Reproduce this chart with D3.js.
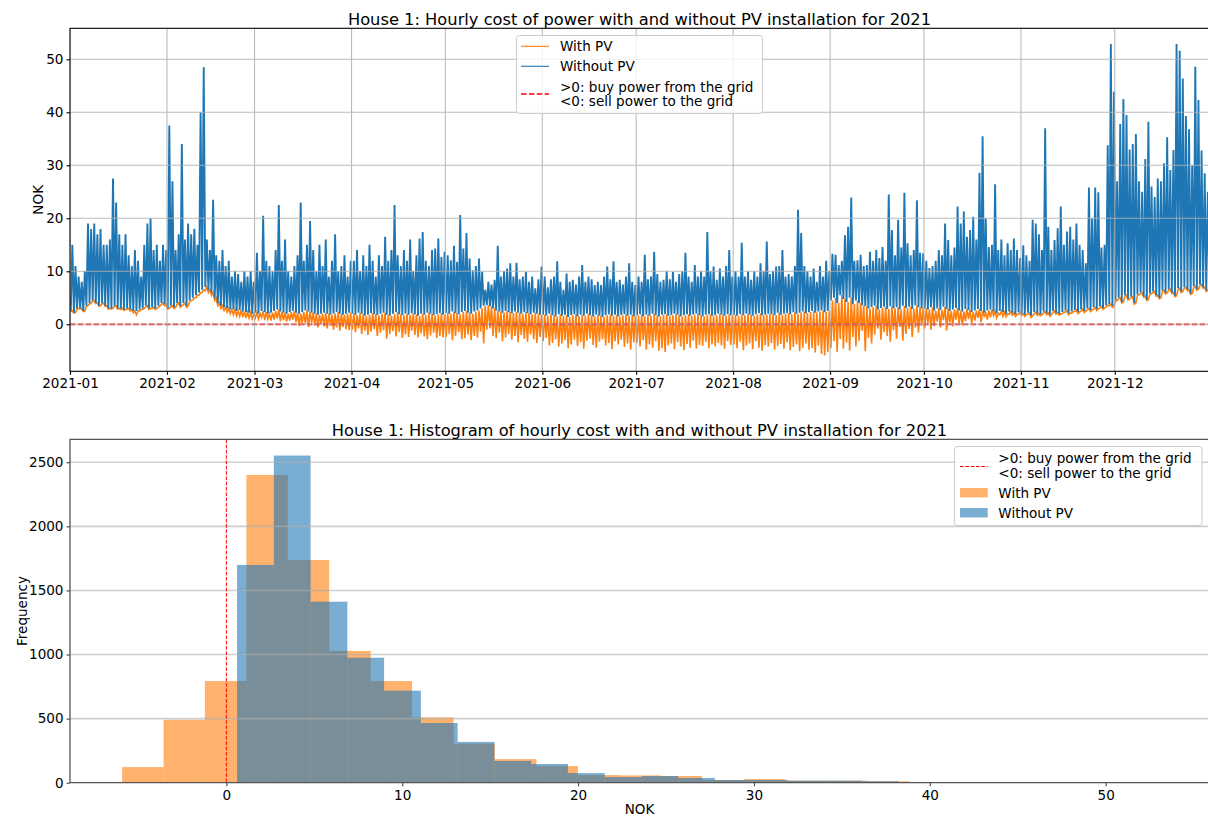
<!DOCTYPE html>
<html>
<head>
<meta charset="utf-8">
<script src="https://cdn.jsdelivr.net/npm/d3@7"></script>
<style>
  body { margin: 0; background: #fff; }
  svg { display: block; font-family: "DejaVu Sans", sans-serif; }
</style>
</head>
<body>
<div id="chart"></div>
<script>
// ---- time series: one entry per day of 2021 ----
// daily peak of the hourly cost without PV (NOK)
const withoutPvMax = [
  15,11,9,8,10,19,18,19,17,18,15,15,16,27.5,23,17,15,17,13,11,14,12,9,15,19,20,14,15,12,15,14,          // jan
  37.5,27,14,17,34,16,19,17,18,15,40,48.5,16,14,23.5,13,12,14,11,12,9,10,9.5,8,10,9,10,8,               // feb
  13.5,10,20.5,12,11,10,14,22.5,12,16,10,9,11,13,23,12,15,19.5,14,10,15,11,16,9,12,17,10,11,13,9,12,    // mar
  12,14,10,13,11,15,12,9,13,11,16.5,12,14,22.5,13,11,14,12,16,10,13,16.2,17.4,12,11,14,14.3,16.2,12.7,13.7, // apr
  13,12.1,14.8,11.8,20.6,14.3,17.2,12.4,10.2,11,12.4,9.9,6.5,8,7.5,8.4,14.8,9,10,10.5,11.5,9,11.6,8.5,9,9.9,8,9,6.8,8.5,10.9, // may
  9,7,8.5,9,11.9,8,6.5,9.6,8,8.4,7.5,9,11.2,8,9,8.5,7.4,8,7.4,9,10.9,8.5,11.9,8,8.4,7.5,9,11.5,8,7.4,   // jun
  9,8,13.1,8.5,9,13.7,9.5,8,8.4,10,8.5,9.9,8,9.5,10,13.5,9,8,11.2,9,10,9,17.4,10,10.9,8.4,10.5,9,11,14,9, // jul
  10,9,15.4,9,10,8.4,10,9,11.5,10,15.6,9.5,10,10.9,11,14,9,9.5,9,11,21.6,17.2,11,10,9,10.5,8,11,9,12,10, // aug
  13.3,13.1,11.2,12,16.8,18.4,23.9,12,12.1,13.1,11,11.2,13.7,12,14,12.5,14.6,12,24.5,17.8,13,19.7,14.5,24.8,15.3,13,14,23.4,13.5,13.4, // sep
  12,10.6,11,12,14,13,19,15.9,13,14.5,22.2,19,21.3,16.5,17.8,20.3,16,28.6,35.5,20,14.6,15,26.4,14,16,13,15.3,14,16.2,14,12.5, // oct
  14.9,13,12,19.7,19,17,14,37,18.4,14,15.9,18.1,22.2,15,17.5,18.4,16,19,15,14,11.5,25.8,20,25.8,24.9,14.5,15,33.8,52.9,43.9, // nov
  27,37.8,42.5,39.5,33,34,35.9,27,25,31.2,38.2,26,24,27.5,27,30.4,35.3,29.1,32.9,52.9,51.6,46.4,39.3,36.8,30,48.6,42.3,32.8,28.5,25,24 // dec
];
// daily low of the hourly cost without PV (NOK)
const withoutPvMin = [
  2.5,2.2,3,3,2.5,3.5,4,4.5,4,3.5,4,3.5,3,3,3.5,3,3,2.8,3,2.8,2.5,2.5,2.8,3,3.5,3,3.2,3,3.5,4,3.8,
  3,3.5,3.2,4,3.5,4,3.5,4.5,5,5.5,6,6.5,7,6.5,6,5,4,3.5,3.2,3,2.8,2.8,2.5,2.7,2.4,2.3,2.2,2,
  2.2,2,2.5,2.3,2,2.2,2.5,2.8,2.4,2.2,2,2.3,2.5,2.2,2,2.3,2.6,2.4,2.2,2,1.8,2,2.2,2,1.8,2,2.3,2,1.8,2,2.2,
  2,1.8,2.2,2,1.6,1.8,2.1,1.9,1.7,2,2.2,1.8,1.6,2,2.3,1.9,1.7,2,1.8,2.1,1.9,1.6,2,1.8,2.2,2,1.7,1.9,2.1,1.8,
  2.2,2,2.4,2.1,1.9,2.3,2.5,2.2,2,2.4,2.6,3,3.5,3.6,3.4,3,2.6,2.4,2.2,2.5,2.3,2.1,2.4,2.2,2,2.3,2.1,1.9,2.2,2,1.8,
  1.8,1.6,2,1.7,1.5,1.9,1.6,1.8,1.4,1.7,1.9,1.5,1.8,1.6,2,1.7,1.5,1.8,1.6,1.4,1.7,1.9,1.6,1.8,1.5,1.7,1.9,1.6,1.8,1.5,
  1.7,1.9,1.5,1.8,1.6,2,1.7,1.5,1.8,1.9,1.6,1.7,2,1.8,1.5,1.7,1.9,1.6,1.8,2,1.7,1.5,1.8,1.9,1.6,1.7,2,1.8,1.6,1.9,1.7,
  1.8,1.6,1.9,1.7,2,1.8,1.6,1.9,2.1,1.7,1.8,2,1.9,1.7,2.2,1.8,2,2.1,1.9,2.3,2,2.2,2.4,2.1,2.3,2.5,2.2,2.4,2.6,2.3,2.5,
  4.5,5,4,5.5,4.8,4.2,5,3.8,4.5,4,3.6,3.4,3,3.2,3.5,2.8,3.1,3.3,2.9,3.4,3,3.2,2.8,3.5,3.1,3.3,2.9,3.6,3.2,3,
  3,2.8,3.2,2.6,3,2.7,3.3,2.9,2.5,2.8,3.1,2.6,2.4,2.9,2.7,2.3,2.6,2.9,2.5,2.2,2.6,2.8,2.4,2.1,2.5,2.3,2,2.4,2.2,1.9,2.3,
  2,1.8,2.2,1.6,2.3,2,1.9,2.4,2.1,1.8,2.5,2.2,2,2.3,2.6,2.1,2.4,2.7,2.3,2.8,2.5,3,2.7,3.2,2.9,3.4,3.1,3.6,3.8,3.5,
  4.5,5,4.2,5.5,4.8,5.2,4,5.6,6,5.3,4.7,5.8,6.2,5.5,5,6.4,5.9,6.6,6,5.4,6.8,6.2,7,6.5,5.8,7.2,6.6,7.5,7,6.4,7.2
];
// daily low of the hourly cost with PV (NOK), negative = selling to the grid
const withPvMin = [
  2.4,2.1,2.9,2.9,2.4,3.4,3.9,4.4,3.9,3.4,3.9,3.4,2.9,2.9,3.4,2.9,2.8,2.6,2.8,2.5,2.2,1.8,2.5,2.8,3.3,2.8,3,2.8,3.2,3.7,3.5,
  2.9,3.3,3,3.8,3.2,3.7,3.2,4.2,4.6,5,5.5,6,6.3,6,5.5,4.5,3.5,3,2.6,2.3,2,1.8,1.6,1.5,1.3,1.2,1.2,1,
  1.2,1,1.3,0.8,1,0.7,0.9,1.1,0.6,0.8,0.5,0.7,0.9,0.4,-0.3,0.2,0.1,-0.5,0.3,-0.2,-0.6,0,-0.4,-0.8,-0.3,-1,-0.6,-1.2,-0.5,-0.9,-1.1,
  -1,-1.5,-0.8,-1.8,-1.2,-2,-1.4,-0.9,-2.2,-1.6,-1.1,-2.7,-1.8,-1.3,-2.3,-1.5,-2.6,-1.9,-2.4,-1.2,-2,-2.5,-1.7,-2.3,-2.8,-2.1,-1.6,-2.6,-2.2,-2.5,
  -2.4,-1.8,-3,-2.2,-1.5,-2.8,-2.6,-1.9,-3,-2.2,-2.5,-1.4,-3.6,-1,-0.8,-2.2,-2.6,-1.6,-3.2,-2.5,-1.8,-2.9,-2.2,-3.4,-2,-2.7,-3.3,-1.9,-2.8,-3.5,-2.4,
  -3.2,-2.6,-4,-3.5,-2.8,-4.2,-3.6,-3,-4.5,-3.8,-2.9,-4.1,-3.4,-4.6,-3.1,-2.7,-3.9,-4.4,-3.3,-2.8,-4,-3.5,-4.7,-3.2,-3.8,-2.9,-4.3,-3.6,-4.8,-3.4,
  -3.5,-4.2,-3,-4.8,-3.8,-4.4,-3.2,-5,-4.5,-5.2,-4,-3.6,-4.7,-3.4,-4.2,-4.9,-3.7,-4.4,-3.1,-4.6,-3.9,-4.1,-3.3,-4.5,-3.8,-4.2,-3.5,-4,-4.6,-3.2,-3.9,
  -3.8,-4.5,-3.3,-4.9,-4,-3.6,-4.7,-3.2,-4.4,-5,-3.9,-4.2,-3.5,-4.8,-4.1,-3.7,-4.6,-3.4,-4.9,-4.3,-3.8,-5.1,-4.4,-3.6,-4.8,-4.5,-5.3,-4,-5.6,-5.9,-5.2,
  -4.5,-3.2,-5.2,-2.8,-4.6,-3.5,-5,-2.4,-4.2,-3.1,-1.2,-5.1,-2.6,-3.6,-1.9,-0.8,-2.9,-1.5,-2.2,-3.3,-1.1,-2.7,-0.5,-3.1,-1.8,-0.9,-2.4,-0.6,-1.6,-0.3,
  -0.8,0.2,-1,-0.3,0.5,-0.6,0.8,-1.2,0.3,-0.4,0.9,0.1,-0.2,0.6,1,0.2,0.7,1.2,0.4,1.5,0.9,1.3,1.6,1.2,1.8,1.5,1.4,1.9,1.7,1.5,1.9,
  1.7,1.5,1.9,1.3,2,1.7,1.6,2.1,1.8,1.5,2.2,1.9,1.7,2,2.3,1.8,2.1,2.4,2,2.5,2.2,2.7,2.4,2.9,2.6,3.1,2.8,3.3,3.5,3.2,
  4.3,4.8,4,5.3,4.6,5,3.8,5.4,5.8,5.1,4.5,5.6,6,5.3,4.8,6.2,5.7,6.4,5.8,5.2,6.6,6,6.8,6.3,5.6,7,6.4,7.3,6.8,6.2,7
];

// ---- histogram: bin edges (NOK) and counts, 25 bins per series ----
const withPvEdges = [-5.93,-3.57,-1.22,1.14,3.49,5.85,8.21,10.56,12.92,15.27,17.63,19.99,22.34,24.70,27.05,29.41,31.77,34.12,36.48,38.83,41.19,43.55,45.90,48.26,50.61,52.97];
const withPvCounts = [122,491,793,2401,1737,1028,793,510,305,184,130,60,57,52,21,29,16,16,11,3,1,1,0,1,2];
const withoutPvEdges = [0.61,2.70,4.79,6.88,8.97,11.06,13.15,15.24,17.33,19.42,21.51,23.60,25.69,27.78,29.87,31.96,34.05,36.14,38.23,40.32,42.41,44.50,46.59,48.68,50.77,52.86];
const withoutPvCounts = [1699,2552,1412,975,718,466,318,170,146,75,44,52,37,21,21,16,16,11,4,2,1,1,1,1,2];

const costTicks = [0, 10, 20, 30, 40, 50];
const freqTicks = [0, 500, 1000, 1500, 2000, 2500];
const refLabel = [">0: buy power from the grid", "<0: sell power to the grid"];

const W = 1208, H = 817;
const C_WITH = "#ff7f0e", C_WITHOUT = "#1f77b4";
const FS = 13.55, FS_TITLE = 16.3;

const svg = d3.select("#chart").append("svg").attr("width", W).attr("height", H);

// ================= top: hourly cost =================
const topBox = { l: 70, r: 1211.6, t: 28.3, b: 371.3 };
const x1 = d3.scaleUtc()
  .domain([new Date(Date.UTC(2021, 0, 1)), new Date(Date.UTC(2021, 11, 31, 23))])
  .range([topBox.l, topBox.r]);
const y1 = d3.scaleLinear().domain([-8.87, 55.85]).range([topBox.b, topBox.t]);

svg.append("clipPath").attr("id", "clipTop")
  .append("rect").attr("x", topBox.l).attr("y", topBox.t)
  .attr("width", topBox.r - topBox.l).attr("height", topBox.b - topBox.t);

const dayAt = (d, f) => new Date(Date.UTC(2021, 0, 1) + (d + f) * 864e5);
const withoutPts = withoutPvMin.flatMap((lo, d) => [[dayAt(d, 0.25), lo], [dayAt(d, 0.75), withoutPvMax[d]]]);
const withPts = withPvMin.flatMap((lo, d) => [[dayAt(d, 0.25), lo], [dayAt(d, 0.75), withoutPvMin[d]]]);

const line1 = d3.line().x(d => x1(d[0])).y(d => y1(d[1]));
const gTop = svg.append("g").attr("clip-path", "url(#clipTop)");
gTop.append("path").datum(withPts).attr("d", line1)
  .attr("fill", "none").attr("stroke", C_WITH).attr("stroke-width", 1.6);
gTop.append("path").datum(withoutPts).attr("d", line1)
  .attr("fill", "none").attr("stroke", C_WITHOUT).attr("stroke-width", 1.9);

const monthTicks = x1.ticks(d3.utcMonth.every(1));
// grid
const gridTop = svg.append("g").attr("clip-path", "url(#clipTop)")
  .attr("stroke", "#b0b0b0").attr("stroke-width", 1.1).attr("opacity", 0.85);
gridTop.selectAll(".gx").data(monthTicks).enter().append("line")
  .attr("x1", d => x1(d)).attr("x2", d => x1(d)).attr("y1", topBox.t).attr("y2", topBox.b);
gridTop.selectAll(".gy").data(costTicks).enter().append("line")
  .attr("x1", topBox.l).attr("x2", topBox.r).attr("y1", d => y1(d)).attr("y2", d => y1(d));

// zero reference line
gTop.append("line")
  .attr("x1", topBox.l).attr("x2", topBox.r).attr("y1", y1(0)).attr("y2", y1(0))
  .attr("stroke", "red").attr("stroke-width", 1.7).attr("stroke-dasharray", "5.5,2.4");

// axes
const axX1 = svg.append("g").attr("transform", `translate(0,${topBox.b})`)
  .call(d3.axisBottom(x1).tickValues(monthTicks).tickFormat(d3.utcFormat("%Y-%m")).tickSize(3.5).tickPadding(4));
const axY1 = svg.append("g").attr("transform", `translate(${topBox.l},0)`)
  .call(d3.axisLeft(y1).tickValues(costTicks).tickFormat(d3.format("d")).tickSize(3.5).tickPadding(3));
[axX1, axY1].forEach(a => {
  a.select(".domain").remove();
  a.selectAll("text").attr("font-size", FS).attr("fill", "#000").attr("font-family", "DejaVu Sans");
  a.selectAll("line").attr("stroke", "#000").attr("stroke-width", 1.1);
});
svg.append("rect").attr("x", topBox.l).attr("y", topBox.t)
  .attr("width", topBox.r - topBox.l).attr("height", topBox.b - topBox.t)
  .attr("fill", "none").attr("stroke", "#000").attr("stroke-width", 1.1);

svg.append("text").attr("x", 639.5).attr("y", 25).attr("text-anchor", "middle")
  .attr("font-size", FS_TITLE).text("House 1: Hourly cost of power with and without PV installation for 2021");
svg.append("text").attr("transform", "translate(43.3,199.8) rotate(-90)").attr("text-anchor", "middle")
  .attr("font-size", FS).text("NOK");

// legend top
const lg1 = svg.append("g");
lg1.append("rect").attr("x", 516.5).attr("y", 35.5).attr("width", 246).attr("height", 78).attr("rx", 3)
  .attr("fill", "#fff").attr("fill-opacity", 0.8).attr("stroke", "#cccccc");
[[C_WITH, "With PV", 46.3], [C_WITHOUT, "Without PV", 66.3]].forEach(([c, t, yy]) => {
  lg1.append("line").attr("x1", 521).attr("x2", 549).attr("y1", yy).attr("y2", yy).attr("stroke", c).attr("stroke-width", 1.1);
  lg1.append("text").attr("x", 560).attr("y", yy).attr("dy", "0.36em").attr("font-size", FS).text(t);
});
lg1.append("line").attr("x1", 521).attr("x2", 549).attr("y1", 94).attr("y2", 94)
  .attr("stroke", "red").attr("stroke-width", 1.7).attr("stroke-dasharray", "5.5,2.4");
refLabel.forEach((t, i) => lg1.append("text").attr("x", 560).attr("y", 86.7 + i * 14.4).attr("dy", "0.36em")
  .attr("font-size", FS).text(t));

// ================= bottom: histogram =================
const botBox = { l: 70, r: 1208.6, t: 439.3, b: 782.7 };
const x2 = d3.scaleLinear().domain([-8.89, 55.85]).range([botBox.l, botBox.r]);
const y2 = d3.scaleLinear().domain([0, 2679]).range([botBox.b, botBox.t]);

const bars = (edges, counts, color) => svg.append("g").selectAll("rect").data(counts).enter().append("rect")
  .attr("x", (d, i) => x2(edges[i]))
  .attr("width", (d, i) => x2(edges[i + 1]) - x2(edges[i]))
  .attr("y", d => y2(d))
  .attr("height", d => y2(0) - y2(d))
  .attr("fill", color).attr("fill-opacity", 0.6);
bars(withPvEdges, withPvCounts, C_WITH);
bars(withoutPvEdges, withoutPvCounts, C_WITHOUT);

svg.append("g").attr("stroke", "#b0b0b0").attr("stroke-width", 1.6).attr("opacity", 0.6)
  .selectAll("line").data(freqTicks.slice(1)).enter().append("line")
  .attr("x1", botBox.l).attr("x2", botBox.r).attr("y1", d => y2(d)).attr("y2", d => y2(d));

svg.append("line").attr("x1", x2(0)).attr("x2", x2(0)).attr("y1", botBox.t).attr("y2", botBox.b)
  .attr("stroke", "red").attr("stroke-width", 1).attr("stroke-dasharray", "3.7,1.6");

const axX2 = svg.append("g").attr("transform", `translate(0,${botBox.b})`)
  .call(d3.axisBottom(x2).tickValues(costTicks).tickFormat(d3.format("d")).tickSize(3.5).tickPadding(4));
const axY2 = svg.append("g").attr("transform", `translate(${botBox.l},0)`)
  .call(d3.axisLeft(y2).tickValues(freqTicks).tickFormat(d3.format("d")).tickSize(3.5).tickPadding(3));
[axX2, axY2].forEach(a => {
  a.select(".domain").remove();
  a.selectAll("text").attr("font-size", FS).attr("fill", "#000").attr("font-family", "DejaVu Sans");
  a.selectAll("line").attr("stroke", "#444").attr("stroke-width", 1.1);
});
svg.append("path").attr("d", `M${botBox.r},${botBox.t}H${botBox.l}V${botBox.b}H${botBox.r}`)
  .attr("fill", "none").attr("stroke", "#555").attr("stroke-width", 1.3);

svg.append("text").attr("x", 639.5).attr("y", 436).attr("text-anchor", "middle")
  .attr("font-size", FS_TITLE).text("House 1: Histogram of hourly cost with and without PV installation for 2021");
svg.append("text").attr("x", 639.5).attr("y", 814).attr("text-anchor", "middle")
  .attr("font-size", FS).text("NOK");
svg.append("text").attr("transform", "translate(26.5,611) rotate(-90)").attr("text-anchor", "middle")
  .attr("font-size", FS).text("Frequency");

// legend bottom
const lg2 = svg.append("g");
lg2.append("rect").attr("x", 954.5).attr("y", 446.5).attr("width", 247.5).attr("height", 79).attr("rx", 3)
  .attr("fill", "#fff").attr("fill-opacity", 0.8).attr("stroke", "#cccccc");
lg2.append("line").attr("x1", 960).attr("x2", 987.5).attr("y1", 466.5).attr("y2", 466.5)
  .attr("stroke", "red").attr("stroke-width", 1).attr("stroke-dasharray", "3.7,1.6");
refLabel.forEach((t, i) => lg2.append("text").attr("x", 998.3).attr("y", 458.3 + i * 14.4).attr("dy", "0.36em")
  .attr("font-size", FS).text(t));
[[C_WITH, "With PV", 492.7], [C_WITHOUT, "Without PV", 512.7]].forEach(([c, t, yy]) => {
  lg2.append("rect").attr("x", 960).attr("y", yy - 4.7).attr("width", 27.7).attr("height", 9.4)
    .attr("fill", c).attr("fill-opacity", 0.6);
  lg2.append("text").attr("x", 998.3).attr("y", yy).attr("dy", "0.36em").attr("font-size", FS).text(t);
});
</script>
</body>
</html>
